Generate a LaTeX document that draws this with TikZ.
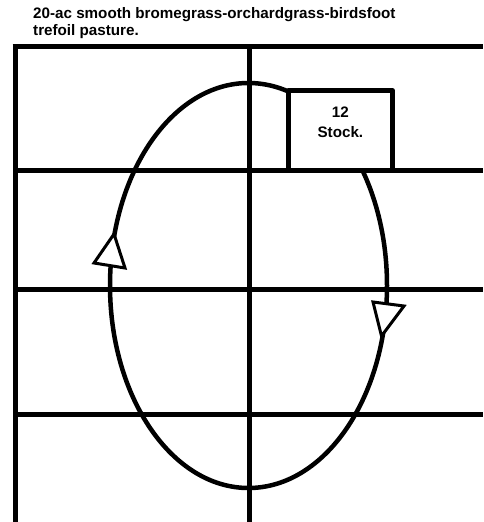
\documentclass[tikz,border=0pt]{standalone}
\usepackage{fontspec}
\setmainfont{Liberation Sans}
\usepackage{tikz}

\begin{document}
\begin{tikzpicture}[x=1pt,y=-1pt,
		grid/.style={line width=5pt},
		loopline/.style={line width=4.5pt},
		headtri/.style={line width=3pt,fill=white,line join=miter},
		txt/.style={inner sep=0pt,font=\bfseries\fontsize{15.2}{17}\selectfont}]
			\useasboundingbox (0,0) rectangle (483,522);
			\draw[grid] (12.5,46.5) -- (483,46.5);
			\draw[grid] (15,44) -- (15,522);
			\draw[grid] (249,46.5) -- (249,522);
			\foreach \yy in {170,289,414}
				\draw[grid] (15,\yy) -- (483,\yy);
			\draw[loopline] (248.5,285.5) ellipse [x radius=138.5, y radius=202.5];
			\draw[grid,fill=white,line join=round] (288.3,90.8) rectangle (392.5,170);
			\filldraw[headtri] (114,234) -- (94,263) -- (125,268) -- cycle;
			\filldraw[headtri] (373,302) -- (404,306) -- (381.5,336) -- cycle;
			\node[txt,anchor=base west] (title1) at (33,18) {20-ac smooth bromegrass-orchardgrass-birdsfoot};
			\node[txt,anchor=base west] (title2) at (33,35.5) {trefoil pasture.};
			\node[txt,anchor=base] (num) at (340.4,117) {12};
			\node[txt,anchor=base] (stock) at (340.4,137) {Stock.};
		\end{tikzpicture}
\end{document}
